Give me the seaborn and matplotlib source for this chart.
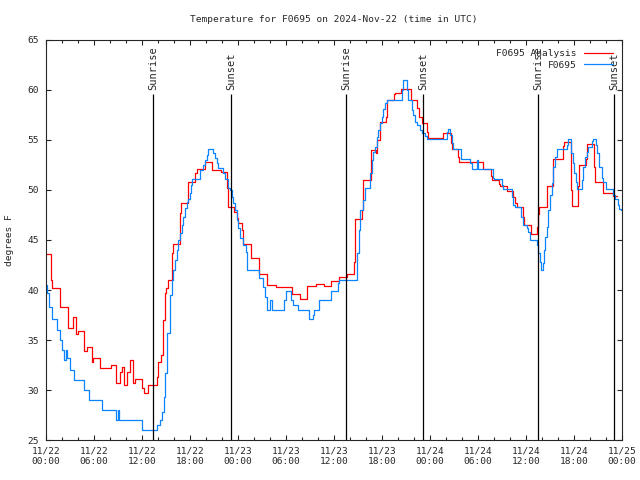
import pandas as pd
import matplotlib
matplotlib.use("Agg")
from matplotlib import pyplot
import matplotlib.dates as mdates
import seaborn as sns

start = pd.Timestamp("2024-11-22 00:00")

# hours after 11/22 00:00 UTC
analysis_hours = [0.0, 0.62, 0.75, 1.75, 2.75, 3.4, 3.75, 4.0, 4.75, 5.1, 5.75, 5.9, 6.75, 8.1,
                  8.75, 9.25, 9.5, 9.75, 10.1, 10.5, 10.9, 11.1, 12.0, 12.25, 12.75, 13.9, 14.0,
                  14.4, 14.6, 14.9, 15.0, 15.25, 15.75, 15.9, 16.75, 16.9, 17.75, 18.6, 18.9,
                  19.9, 20.75, 21.9, 22.6, 22.75, 23.5, 23.9, 24.0, 24.5, 24.6, 25.6, 26.6, 27.6,
                  28.75, 30.75, 31.75, 32.6, 33.75, 34.75, 35.6, 36.6, 37.6, 38.5, 38.6, 39.5,
                  39.6, 40.6, 41.25, 41.4, 41.75, 42.5, 42.6, 43.5, 43.6, 44.4, 45.6, 46.4, 46.6,
                  47.0, 47.6, 47.75, 49.6, 50.6, 50.75, 51.5, 51.6, 54.6, 55.6, 55.75, 56.6,
                  56.75, 57.6, 58.4, 58.6, 58.9, 59.6, 59.75, 60.6, 61.4, 61.5, 61.6, 62.6, 63.4,
                  64.6, 64.75, 65.6, 65.75, 66.5, 66.6, 67.5, 67.6, 68.5, 68.6, 69.6, 70.9, 71.4]
analysis_temp = [43.6, 41.0, 40.2, 38.3, 36.2, 37.3, 35.6, 35.9, 33.9, 34.3, 32.8, 33.2, 32.2, 32.5,
                 30.7, 31.8, 32.3, 30.5, 31.8, 33.0, 30.7, 31.1, 30.2, 29.7, 30.5, 31.3, 32.8,
                 33.5, 37.0, 39.7, 40.2, 41.0, 43.7, 44.6, 47.7, 48.7, 50.8, 51.7, 52.1,
                 52.8, 52.0, 51.8, 50.2, 48.3, 47.8, 47.2, 46.7, 46.0, 44.6, 43.2, 41.6, 40.5,
                 40.3, 39.6, 39.1, 40.4, 40.6, 40.4, 40.9, 41.3, 41.6, 42.8, 47.1, 48.0,
                 51.0, 54.0, 53.7, 55.0, 56.8, 57.3, 59.0, 59.6, 59.7, 60.1, 59.0, 58.2, 57.3,
                 56.7, 55.8, 55.2, 55.7, 54.7, 54.1, 53.3, 52.8, 52.1, 51.4, 51.0, 50.6,
                 50.4, 49.9, 49.3, 48.7, 48.3, 47.3, 46.5, 45.6, 46.3, 47.6, 48.3, 50.4, 53.1,
                 54.4, 54.8, 50.0, 48.4, 50.4, 52.5, 53.1, 54.6, 52.3, 50.8, 49.7, 49.4, 49.4]

station_hours = [0.0, 0.1, 0.4, 0.75, 1.4, 1.75, 2.0, 2.25, 2.5, 2.6, 3.0, 3.5, 4.75, 5.4, 7.0,
                 8.75, 9.0, 9.1, 12.0, 13.9, 14.25, 14.5, 14.75, 14.9, 15.1, 15.5, 15.75, 15.9,
                 16.1, 16.4, 16.5, 16.75, 17.0, 17.1, 17.4, 17.6, 17.75, 18.0, 18.1, 18.25,
                 19.25, 19.6, 19.9, 20.1, 20.25, 20.9, 21.1, 21.4, 21.5, 22.1, 22.4, 22.75, 23.0,
                 23.25, 23.4, 23.6, 23.9, 24.0, 24.25, 24.6, 25.0, 25.1, 26.6, 27.1, 27.4, 27.6,
                 28.0, 28.25, 29.75, 30.0, 30.6, 30.9, 31.5, 32.9, 33.4, 33.5, 34.1, 35.6, 36.5,
                 36.6, 38.9, 39.1, 39.25, 39.6, 39.9, 40.5, 40.75, 40.9, 41.1, 41.4, 41.5, 41.75,
                 42.0, 42.1, 42.4, 42.6, 44.5, 44.6, 45.1, 45.25, 45.75, 45.9, 46.1, 46.4, 46.75,
                 47.0, 47.4, 47.6, 50.1, 50.25, 50.5, 50.75, 50.9, 51.9, 53.0, 53.25, 53.9, 54.0,
                 55.9, 56.0, 57.0, 57.1, 58.25, 58.4, 58.6, 59.4, 59.6, 60.1, 60.25, 60.5, 61.4,
                 61.5, 61.75, 61.9, 62.1, 62.25, 62.4, 62.6, 62.75, 63.0, 63.25, 63.4, 63.6, 63.9,
                 65.1, 65.25, 65.6, 65.9, 66.0, 66.25, 66.4, 67.0, 67.1, 67.4, 67.6, 67.75, 68.25,
                 68.4, 68.75, 68.9, 69.1, 69.5, 69.6, 70.0, 70.9, 71.1, 71.5, 71.6, 71.9]
station_temp = [40.5, 39.7, 38.3, 37.1, 36.0, 35.0, 34.0, 33.0, 34.0, 33.2, 32.0, 31.0, 30.0, 29.0, 28.0,
                27.0, 28.0, 27.0, 26.0, 26.5, 27.0, 27.8, 29.3, 31.7, 35.7, 39.5, 41.0, 42.0,
                43.0, 44.0, 45.0, 45.7, 46.5, 47.3, 48.2, 48.8, 49.1, 49.7, 50.5, 51.1,
                52.0, 52.5, 53.0, 53.5, 54.1, 53.7, 53.2, 52.7, 52.2, 51.7, 51.1, 50.2, 50.0,
                49.3, 48.7, 48.0, 47.0, 46.2, 45.2, 44.5, 43.8, 42.0, 41.2, 40.3, 39.3, 38.0,
                39.0, 38.0, 39.0, 39.9, 39.0, 38.5, 38.0, 37.1, 37.5, 38.0, 39.0, 39.9, 40.7,
                41.0, 43.7, 46.0, 48.0, 49.0, 50.2, 51.7, 53.0, 53.8, 54.3, 55.3, 56.0, 56.7,
                57.3, 58.1, 58.7, 59.0, 60.0, 61.0, 60.0, 59.0, 58.0, 57.5, 56.8, 56.5, 56.0,
                55.7, 55.4, 55.1, 55.8, 56.1, 55.5, 54.7, 54.1, 53.1, 52.7, 52.1, 53.0, 52.1,
                51.2, 51.1, 50.5, 50.1, 49.3, 48.5, 48.3, 47.3, 46.5, 46.2, 45.8, 45.0, 44.5,
                43.7, 42.8, 42.0, 42.7, 44.0, 45.3, 46.3, 48.0, 49.5, 50.7, 52.3, 53.3, 54.1,
                54.5, 55.1, 53.7, 52.7, 51.7, 50.8, 50.1, 51.0, 52.3, 53.3, 53.8, 54.3, 54.9,
                55.1, 54.5, 53.7, 52.3, 51.2, 50.8, 50.1, 49.5, 49.1, 48.5, 48.1, 48.0]

sun_hours = [13.375, 23.125, 37.5, 47.125, 61.5, 71.0]
sun_labels = ["Sunrise", "Sunset", "Sunrise", "Sunset", "Sunrise", "Sunset"]

analysis = pd.DataFrame({"time": start + pd.to_timedelta(analysis_hours, unit="h"), "temp": analysis_temp})
station = pd.DataFrame({"time": start + pd.to_timedelta(station_hours, unit="h"), "temp": station_temp})

sns.set_style("ticks")
pyplot.rcParams["font.family"] = ["DejaVu Sans Mono"]
pyplot.rcParams["font.size"] = 6.8
pyplot.rcParams["xtick.direction"] = "in"
pyplot.rcParams["ytick.direction"] = "in"

fig = pyplot.figure(figsize=(6.4, 4.8), dpi=100)
ax = fig.add_axes([46 / 640, 40 / 480, 576 / 640, 400 / 480])

sns.lineplot(x="time", y="temp", data=analysis, color="#ff0000", linewidth=0.9,
             drawstyle="steps-post", label="F0695 Analysis", ax=ax)
sns.lineplot(x="time", y="temp", data=station, color="#0a84ff", linewidth=0.9,
             drawstyle="steps-post", label="F0695", ax=ax)

for h, lab in zip(sun_hours, sun_labels):
    t = start + pd.Timedelta(hours=h)
    ax.vlines(t, 25, 59.6, color="black", linewidth=0.9)
    ax.text(t, 60.0, lab, rotation=90, ha="center", va="bottom", fontsize=7.5)

ax.set_xlim(start, start + pd.Timedelta(hours=72))
ax.set_ylim(25, 65)
ax.set_yticks(range(25, 66, 5))
ax.xaxis.set_major_locator(mdates.HourLocator(byhour=range(0, 24, 6)))
ax.xaxis.set_minor_locator(mdates.HourLocator(byhour=range(0, 24, 2)))
ax.xaxis.set_major_formatter(mdates.DateFormatter("%m/%d\n%H:%M"))
ax.tick_params(which="both", top=True, right=True, width=0.8, labelsize=6.8)
ax.tick_params(which="major", length=3.5, pad=5)
ax.tick_params(which="minor", length=2)
for s in ax.spines.values():
    s.set_linewidth(0.8)
ax.set_xlabel("")
ax.set_ylabel("degrees F", fontsize=6.8, labelpad=10)
ax.set_title("Temperature for F0695 on 2024-Nov-22 (time in UTC)", fontsize=6.8, pad=13)

ax.legend(loc="upper right", frameon=False, markerfirst=False, handlelength=3.0,
          fontsize=6.8, borderaxespad=0.6, labelspacing=0.25, handletextpad=0.8)

pyplot.savefig("out.png", dpi=100)
